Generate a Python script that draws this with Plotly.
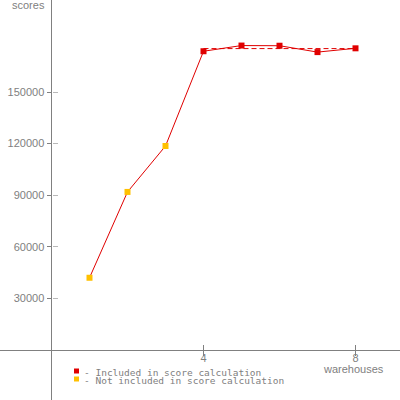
import plotly.graph_objects as go

warehouses = [1, 2, 3, 4, 5, 6, 7, 8]
scores = [42000, 91900, 118600, 173700, 177000, 176900, 173200, 175400]
included = [False, False, False, True, True, True, True, True]
y_ticks = [30000, 60000, 90000, 120000, 150000]
x_ticks = [4, 8]

incl_x = [w for w, f in zip(warehouses, included) if f]
incl_y = [s for s, f in zip(scores, included) if f]
excl_x = [w for w, f in zip(warehouses, included) if not f]
excl_y = [s for s, f in zip(scores, included) if not f]
avg = sum(incl_y) / len(incl_y)

GRAY = "#808080"
LIGHT = "#b8b8b8"
RED = "#e00000"
YELLOW = "#ffc000"

# axes cross at pixel (51.5, 350) and span the whole 400x400 canvas
xr = [-51.5 / 38, 348.5 / 38]
yr = [-50 * 30000 / 51.6, 350 * 30000 / 51.6]

fig = go.Figure()
# averaged score line across the included points
fig.add_trace(go.Scatter(x=[incl_x[0], incl_x[-1]], y=[avg, avg], mode="lines",
                         line=dict(color=RED, width=1, dash="5px,3px"), hoverinfo="skip"))
fig.add_trace(go.Scatter(x=warehouses, y=scores, mode="lines",
                         line=dict(color=RED, width=1)))
fig.add_trace(go.Scatter(x=excl_x, y=excl_y, mode="markers",
                         marker=dict(symbol="square", size=6, color=YELLOW)))
fig.add_trace(go.Scatter(x=incl_x, y=incl_y, mode="markers",
                         marker=dict(symbol="square", size=6, color=RED)))
# dummy trace so the overlay axes (other tick halves) are drawn
fig.add_trace(go.Scatter(x=[None], y=[None], xaxis="x2", yaxis="y2"))

axis_font = dict(family="Liberation Sans, Arial", size=11, color=GRAY)
fig.update_layout(
    width=400, height=400,
    margin=dict(l=0, r=0, t=0, b=0),
    paper_bgcolor="white", plot_bgcolor="white",
    showlegend=False,
    xaxis=dict(range=xr, domain=[0, 1], anchor="free", position=50 / 400,
               showgrid=False, zeroline=True, zerolinecolor=GRAY, zerolinewidth=1,
               showline=False, tickvals=x_ticks, ticks="inside", ticklen=5,
               tickcolor=GRAY, tickfont=axis_font),
    yaxis=dict(range=yr, domain=[0, 1], anchor="free", position=51.5 / 400,
               showgrid=False, zeroline=True, zerolinecolor=GRAY, zerolinewidth=1,
               showline=False, tickvals=y_ticks, ticktext=[str(v) for v in y_ticks],
               ticks="outside", ticklen=5, tickcolor=GRAY, tickfont=axis_font),
    xaxis2=dict(range=xr, overlaying="x", anchor="free", position=50 / 400,
                showgrid=False, zeroline=False, showticklabels=False,
                tickvals=x_ticks, ticks="outside", ticklen=5, tickcolor=GRAY),
    yaxis2=dict(range=yr, overlaying="y", anchor="free", position=51.5 / 400,
                showgrid=False, zeroline=False, showticklabels=False,
                tickvals=y_ticks, ticks="inside", ticklen=5, tickcolor=LIGHT),
)


def px(xp, yp):
    return xp / 400, 1 - yp / 400


ax, ay = px(29, 5)
fig.add_annotation(text="scores", x=ax, y=ay, xref="paper", yref="paper",
                   xanchor="center", yanchor="middle", showarrow=False, font=axis_font)
ax, ay = px(353, 369)
fig.add_annotation(text="warehouses", x=ax, y=ay, xref="paper", yref="paper",
                   xanchor="center", yanchor="middle", showarrow=False, font=axis_font)

legend_font = dict(family="DejaVu Sans Mono", size=9.5, color=GRAY)
for label, col, yp in [("- Included in score calculation", RED, 372),
                       ("- Not included in score calculation", YELLOW, 380)]:
    ax, ay = px(82, yp)
    fig.add_annotation(text=label, x=ax, y=ay, xref="paper", yref="paper",
                       xanchor="left", yanchor="middle", showarrow=False, font=legend_font)
    fig.add_shape(type="rect", xref="paper", yref="paper",
                  x0=74 / 400, x1=79 / 400, y0=1 - (yp + 1.5) / 400, y1=1 - (yp - 3.5) / 400,
                  fillcolor=col, line=dict(width=0))

fig.write_html("out.html", config={"displayModeBar": False},
               post_script="document.body.style.margin='0';")
